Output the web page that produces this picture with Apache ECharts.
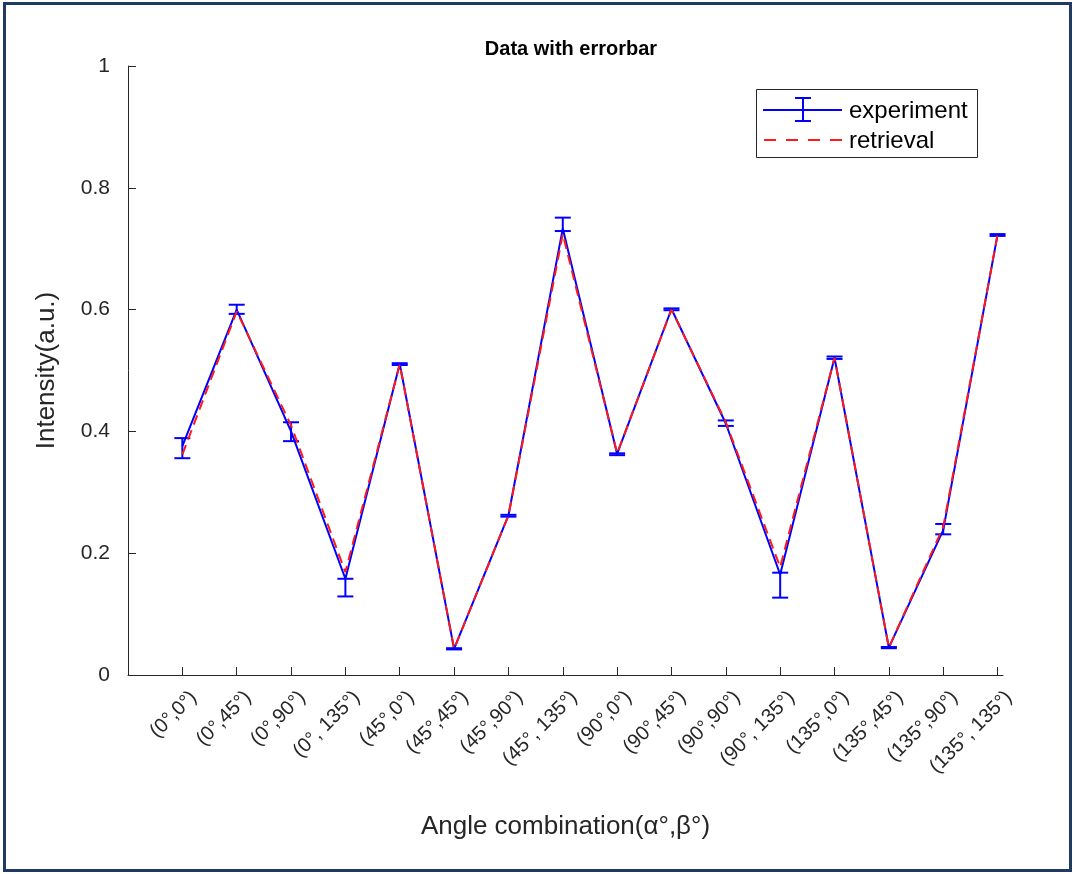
<!DOCTYPE html>
<html>
<head>
<meta charset="utf-8">
<script src="https://cdn.jsdelivr.net/npm/echarts@6/dist/echarts.min.js"></script>
<style>
html,body{margin:0;padding:0;background:#fff;}
#chart{width:1075px;height:874px;}
</style>
</head>
<body>
<div id="chart"></div>
<script>
// ---- data ----
const categories = ['(0°,0°)','(0°,45°)','(0°,90°)','(0°, 135°)','(45°,0°)','(45°,45°)','(45°,90°)','(45°, 135°)','(90°,0°)','(90°,45°)','(90°,90°)','(90°, 135°)','(135°,0°)','(135°,45°)','(135°,90°)','(135°, 135°)'];
const experiment = [0.376, 0.600, 0.400, 0.158, 0.511, 0.043, 0.262, 0.733, 0.363, 0.601, 0.413, 0.165, 0.521, 0.045, 0.238, 0.723];
const errLow     = [0.356, 0.593, 0.384, 0.129, 0.509, 0.042, 0.260, 0.729, 0.361, 0.599, 0.409, 0.127, 0.519, 0.044, 0.231, 0.721];
const errHigh    = [0.389, 0.608, 0.415, 0.158, 0.512, 0.044, 0.263, 0.751, 0.364, 0.602, 0.418, 0.168, 0.523, 0.046, 0.248, 0.724];
const retrieval  = [0.362, 0.597, 0.410, 0.169, 0.510, 0.043, 0.262, 0.724, 0.364, 0.600, 0.415, 0.177, 0.521, 0.045, 0.243, 0.723];
const xTicks = [1,2,3,4,5,6,7,8,9,10,11,12,13,14,15,16];
const yTicks = [0, 0.2, 0.4, 0.6, 0.8, 1];

const FONT = '"Liberation Sans", Arial, Helvetica, sans-serif';
const BLUE = '#0000ff';
const RED = '#ff1a1a';
const AX = '#262626';

const expData = experiment.map((v, i) => [i + 1, v]);
const retData = retrieval.map((v, i) => [i + 1, v]);
const errData = errLow.map((lo, i) => [i + 1, lo, errHigh[i]]);

const chart = echarts.init(document.getElementById('chart'), null, {renderer: 'canvas'});
const option = {
  backgroundColor: '#fff',
  animation: false,
  title: {
    text: 'Data with errorbar',
    left: 566, top: 34, textAlign: 'center',
    textStyle: {fontFamily: FONT, fontSize: 20, fontWeight: 'bold', color: '#000'}
  },
  grid: {left: 128, right: 72, top: 66, bottom: 199, containLabel: false},
  xAxis: {
    type: 'value', min: 0, max: 16.1,
    name: 'Angle combination(α°,β°)', nameLocation: 'middle', nameGap: 139,
    nameMoveOverlap: false,
    nameTextStyle: {fontFamily: FONT, fontSize: 26, color: AX},
    axisLine: {show: true, onZero: false, lineStyle: {color: AX, width: 1}},
    axisTick: {show: true, inside: true, length: 8, customValues: xTicks, lineStyle: {color: AX}},
    axisLabel: {
      customValues: xTicks, rotate: 45, margin: 8,
      fontFamily: FONT, fontSize: 20, color: AX,
      verticalAlign: 'top', padding: [6, 0, 0, 0],
      formatter: v => categories[Math.round(v) - 1] || ''
    },
    splitLine: {show: false}
  },
  yAxis: {
    type: 'value', min: 0, max: 1, interval: 0.2,
    name: 'Intensity(a.u.)', nameLocation: 'middle', nameGap: 68,
    nameMoveOverlap: false,
    nameTextStyle: {fontFamily: FONT, fontSize: 26, color: AX},
    axisLine: {show: true, onZero: false, lineStyle: {color: AX, width: 1}},
    axisTick: {show: true, inside: true, length: 8, lineStyle: {color: AX}},
    axisLabel: {fontFamily: FONT, fontSize: 21, color: AX, margin: 18,
      formatter: v => String(+v.toFixed(1))},
    splitLine: {show: false}
  },
  series: [
    {
      name: 'experiment', type: 'line', data: expData,
      symbol: 'none', lineStyle: {color: BLUE, width: 2}, itemStyle: {color: BLUE}, z: 2
    },
    {
      name: 'experiment-err', type: 'custom', data: errData, z: 3,
      renderItem: function (params, api) {
        const x = api.value(0);
        const lo = api.coord([x, api.value(1)]);
        const hi = api.coord([x, api.value(2)]);
        const hw = 8;
        const st = {stroke: BLUE, lineWidth: 2};
        return {
          type: 'group',
          children: [
            {type: 'line', shape: {x1: lo[0], y1: lo[1], x2: hi[0], y2: hi[1]}, style: st},
            {type: 'line', shape: {x1: lo[0] - hw, y1: lo[1], x2: lo[0] + hw, y2: lo[1]}, style: st},
            {type: 'line', shape: {x1: hi[0] - hw, y1: hi[1], x2: hi[0] + hw, y2: hi[1]}, style: st}
          ]
        };
      }
    },
    {
      name: 'retrieval', type: 'line', data: retData,
      symbol: 'none', lineStyle: {color: RED, width: 2, type: [10, 6]}, itemStyle: {color: RED}, z: 4
    }
  ],
  graphic: [
    {type: 'rect', shape: {x: 4.5, y: 3.5, width: 1066, height: 867}, style: {fill: null, stroke: '#1f3a63', lineWidth: 3}, silent: true, z: 100},
    {type: 'group', z: 50, children: [
      {type: 'rect', shape: {x: 756.5, y: 89.5, width: 221, height: 68}, style: {fill: '#fff', stroke: AX, lineWidth: 1}},
      {type: 'line', shape: {x1: 763, y1: 110, x2: 842, y2: 110}, style: {stroke: BLUE, lineWidth: 2}},
      {type: 'line', shape: {x1: 803, y1: 98, x2: 803, y2: 121}, style: {stroke: BLUE, lineWidth: 2}},
      {type: 'line', shape: {x1: 795, y1: 98, x2: 811, y2: 98}, style: {stroke: BLUE, lineWidth: 2}},
      {type: 'line', shape: {x1: 795, y1: 121, x2: 811, y2: 121}, style: {stroke: BLUE, lineWidth: 2}},
      {type: 'line', shape: {x1: 764, y1: 140, x2: 842, y2: 140}, style: {stroke: RED, lineWidth: 2, lineDash: [12, 10]}},
      {type: 'text', x: 849, y: 111, style: {text: 'experiment', font: '24px ' + FONT, fill: '#000', verticalAlign: 'middle'}},
      {type: 'text', x: 849, y: 141, style: {text: 'retrieval', font: '24px ' + FONT, fill: '#000', verticalAlign: 'middle'}}
    ]}
  ]
};
chart.setOption(option);
</script>
</body>
</html>
